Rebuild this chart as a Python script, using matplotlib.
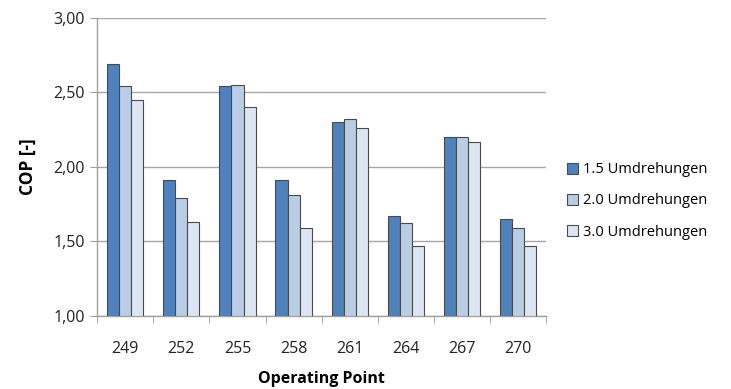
import matplotlib.pyplot as plt
import numpy as np

operating_points = ["249", "252", "255", "258", "261", "264", "267", "270"]
cop_15 = [2.69, 1.91, 2.54, 1.91, 2.30, 1.67, 2.20, 1.65]
cop_20 = [2.54, 1.79, 2.55, 1.81, 2.32, 1.62, 2.20, 1.59]
cop_30 = [2.45, 1.63, 2.40, 1.59, 2.26, 1.47, 2.17, 1.47]
series_labels = ["1.5 Umdrehungen", "2.0 Umdrehungen", "3.0 Umdrehungen"]
y_ticks = [1.0, 1.5, 2.0, 2.5, 3.0]

colors = ["#4F81BD", "#B9CDE5", "#DCE6F2"]
edge = "#4a4a4a"

plt.rcParams['font.family'] = ['Open Sans', 'DejaVu Sans']

fig = plt.figure(figsize=(7.31, 3.89), dpi=100)
ax = fig.add_axes([0.133, 0.188, 0.614, 0.766])

x = np.arange(len(operating_points))
w = 0.215
for i, (vals, c, lab) in enumerate(zip([cop_15, cop_20, cop_30], colors, series_labels)):
    ax.bar(x + (i - 1) * w, np.array(vals) - 1.0, width=w, bottom=1.0,
           color=c, edgecolor=edge, linewidth=0.8, label=lab, zorder=3)

ax.set_xlim(-0.5, len(operating_points) - 0.5)
ax.set_ylim(1.0, 3.0)
ax.set_yticks(y_ticks)
ax.set_yticklabels([f"{v:.2f}".replace(".", ",") for v in y_ticks], fontsize=11.5, color="#222222")
ax.set_xticks(x)
ax.set_xticklabels(operating_points, fontsize=11.5, color="#222222")
ax.set_xticks(np.arange(-0.5, len(operating_points)), minor=True)
ax.tick_params(axis='x', which='major', length=0, pad=18)
ax.tick_params(axis='x', which='minor', length=5, color="#a0a0a0", direction='out')
ax.tick_params(axis='y', length=5, color="#a0a0a0", direction='out', pad=4)

ax.grid(axis='y', color="#a6a6a6", linewidth=1.0, zorder=0)
for s in ['top', 'right']:
    ax.spines[s].set_visible(False)
for s in ['left', 'bottom']:
    ax.spines[s].set_color("#a0a0a0")
    ax.spines[s].set_linewidth(1.0)

ax.set_ylabel("COP [-]", fontsize=12.5, fontweight='bold', labelpad=12)
ax.set_xlabel("Operating Point", fontsize=11.5, fontweight='bold', labelpad=10)

fig.legend(loc='center left', bbox_to_anchor=(554 / 731, 1 - 201 / 389), frameon=False,
           fontsize=10.5, handlelength=0.75, handleheight=0.75, handletextpad=0.35,
           labelspacing=1.1)

fig.savefig("out.png", dpi=100, facecolor="white")
